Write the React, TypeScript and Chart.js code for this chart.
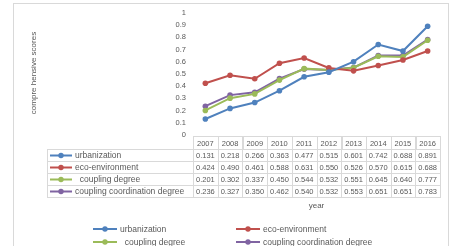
import React, { useEffect, useRef } from "react";
import { Chart, registerables } from "chart.js";

Chart.register(...registerables);

const years = ["2007", "2008", "2009", "2010", "2011", "2012", "2013", "2014", "2015", "2016"];
const urbanization = [0.131, 0.218, 0.266, 0.363, 0.477, 0.515, 0.601, 0.742, 0.688, 0.891];
const ecoEnvironment = [0.424, 0.49, 0.461, 0.588, 0.631, 0.55, 0.526, 0.57, 0.615, 0.688];
const couplingDegree = [0.201, 0.302, 0.337, 0.45, 0.544, 0.532, 0.551, 0.645, 0.64, 0.777];
const couplingCoordination = [0.236, 0.327, 0.35, 0.462, 0.54, 0.532, 0.553, 0.651, 0.651, 0.783];
const seriesNames = ["urbanization", "eco-environment", "  coupling degree", "coupling coordination degree"];
const seriesColors = ["#4F81BD", "#C0504D", "#9BBB59", "#8064A2"];
const seriesData = [urbanization, ecoEnvironment, couplingDegree, couplingCoordination];
const yTitle = "compre hensive scores";
const xTitle = "year";

const FONT = "'Liberation Sans', sans-serif";
const TEXT = "#595959";
const GRIDC = "#d9d9d9";

function drawKey(ctx: CanvasRenderingContext2D, x0: number, x1: number, y: number, color: string) {
  ctx.save();
  ctx.strokeStyle = color;
  ctx.lineWidth = 2;
  ctx.beginPath();
  ctx.moveTo(x0, y);
  ctx.lineTo(x1, y);
  ctx.stroke();
  ctx.fillStyle = color;
  ctx.beginPath();
  ctx.arc((x0 + x1) / 2, y, 2.7, 0, Math.PI * 2);
  ctx.fill();
  ctx.restore();
}

const extrasPlugin = {
  id: "extras",
  afterDraw(chart: any) {
    const ctx: CanvasRenderingContext2D = chart.ctx;
    const area = chart.chartArea;
    const xs = chart.scales.x;
    const n = years.length;
    const colW = (area.right - area.left) / n;
    ctx.save();
    // frame
    ctx.strokeStyle = GRIDC;
    ctx.lineWidth = 1;
    ctx.strokeRect(13.5, 3.5, 435, 260);

    // y title
    ctx.save();
    ctx.translate(34, 73);
    ctx.rotate(-Math.PI / 2);
    ctx.fillStyle = TEXT;
    ctx.font = `8px ${FONT}`;
    ctx.textAlign = "center";
    ctx.textBaseline = "middle";
    ctx.fillText(yTitle, 0, 0);
    ctx.restore();

    // table
    const tableLeft = 47;
    const headerTop = 136;
    const headerH = 13;
    const rowH = 12;
    ctx.strokeStyle = GRIDC;
    ctx.lineWidth = 1;
    for (let i = 0; i < n; i++) {
      const cx = area.left + i * colW;
      ctx.strokeRect(Math.round(cx) + 0.5, headerTop + 0.5, Math.round(colW), headerH);
    }
    ctx.fillStyle = TEXT;
    ctx.font = `7.5px ${FONT}`;
    ctx.textAlign = "center";
    ctx.textBaseline = "middle";
    for (let i = 0; i < n; i++) {
      ctx.fillText(years[i], xs.getPixelForValue(i), headerTop + headerH / 2 + 1);
    }
    const bodyTop = headerTop + headerH;
    for (let r = 0; r < seriesData.length; r++) {
      const y0 = bodyTop + r * rowH;
      ctx.strokeStyle = GRIDC;
      ctx.strokeRect(tableLeft + 0.5, y0 + 0.5, Math.round(area.right) - tableLeft, rowH);
      for (let i = 0; i < n; i++) {
        const cx = Math.round(area.left + i * colW) + 0.5;
        ctx.beginPath();
        ctx.moveTo(cx, y0);
        ctx.lineTo(cx, y0 + rowH);
        ctx.stroke();
      }
      const cy = y0 + rowH / 2 + 0.5;
      drawKey(ctx, 50, 72, cy, seriesColors[r]);
      ctx.fillStyle = TEXT;
      ctx.font = `8.5px ${FONT}`;
      ctx.textAlign = "left";
      ctx.fillText(seriesNames[r], 75, cy + 0.5);
      ctx.font = `7.5px ${FONT}`;
      ctx.textAlign = "center";
      for (let i = 0; i < n; i++) {
        ctx.fillText(seriesData[r][i].toFixed(3), xs.getPixelForValue(i), cy + 0.5);
      }
    }

    // x title
    ctx.fillStyle = TEXT;
    ctx.font = `8px ${FONT}`;
    ctx.textAlign = "center";
    ctx.fillText(xTitle, (area.left + area.right) / 2, 206);

    // legend
    const legendPos = [
      [93, 229],
      [236, 229],
      [93, 242],
      [236, 242],
    ];
    for (let r = 0; r < seriesData.length; r++) {
      const [lx, ly] = legendPos[r];
      drawKey(ctx, lx, lx + 24, ly, seriesColors[r]);
      ctx.fillStyle = TEXT;
      ctx.font = `8.5px ${FONT}`;
      ctx.textAlign = "left";
      ctx.textBaseline = "middle";
      ctx.fillText(seriesNames[r], lx + 27, ly + 0.5);
    }
    ctx.restore();
  },
};

export default function App() {
  const ref = useRef<HTMLCanvasElement | null>(null);
  useEffect(() => {
    if (!ref.current) return;
    const chart = new Chart(ref.current, {
      type: "line",
      data: {
        labels: years,
        datasets: seriesData.map((d, i) => ({
          label: seriesNames[i],
          data: d,
          borderColor: seriesColors[i],
          backgroundColor: seriesColors[i],
          borderWidth: 2,
          pointRadius: 2.8,
          pointBorderWidth: 0,
          pointBackgroundColor: seriesColors[i],
          tension: 0,
        })),
      },
      options: {
        animation: false,
        responsive: false,
        maintainAspectRatio: false,
        layout: { padding: { left: 0, top: 13, right: 17, bottom: 111 } },
        plugins: { legend: { display: false }, tooltip: { enabled: false } },
        scales: {
          x: {
            display: false,
            offset: true,
            grid: { display: false },
          },
          y: {
            min: 0,
            max: 1,
            grid: { display: false, drawTicks: false },
            border: { display: false },
            ticks: {
              stepSize: 0.1,
              padding: 7,
              color: TEXT,
              font: { size: 7.5, family: FONT },
              callback: (v: any) => String(Number(Number(v).toFixed(1))),
            },
            afterFit: (s: any) => {
              s.width = 193;
            },
          },
        },
      },
      plugins: [extrasPlugin],
    });
    return () => chart.destroy();
  }, []);
  return (
    <div style={{ position: "fixed", left: 0, top: 0, width: 457, height: 246, background: "#fff" }}>
      <canvas ref={ref} width={457} height={246} style={{ width: 457, height: 246, display: "block" }} />
    </div>
  );
}
